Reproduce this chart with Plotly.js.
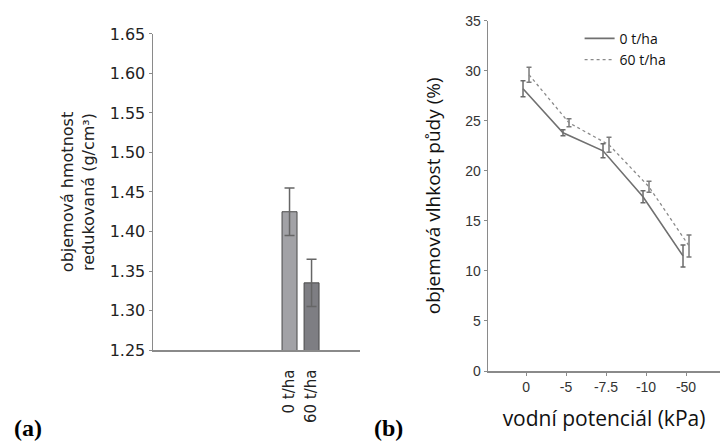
<!DOCTYPE html>
<html>
<head>
<meta charset="utf-8">
<script src="https://cdn.plot.ly/plotly-3.0.1.min.js"></script>
<style>html,body{margin:0;padding:0;background:#fff;}#chart{width:720px;height:443px;}</style>
</head>
<body>
<div id="chart"></div>
<script>
// Panel (a): bulk density (reduced)
const treatA = ['0 t/ha', '60 t/ha'];
const densityA = [1.425, 1.335];
const densityErrA = [0.03, 0.03];
const barColorsA = ['#a2a2a6', '#7e7e83'];

// Panel (b): volumetric soil moisture vs water potential
const potentialB = ['0', '-5', '-7.5', '-10', '-50'];
const moist0 = [28.2, 23.8, 22.0, 17.4, 11.5];
const moist0Err = [0.8, 0.3, 0.7, 0.6, 1.1];
const moist60 = [29.6, 24.8, 22.6, 18.4, 12.5];
const moist60Err = [0.75, 0.4, 0.75, 0.55, 1.1];
const seriesNamesB = ['0 t/ha', '60 t/ha'];

const fontA = 'DejaVu Sans, Liberation Sans, sans-serif';
const fontB = 'Liberation Sans, Arial, sans-serif';
const fontC = 'Open Sans, Noto Sans, sans-serif';

const traces = [
  {
    type: 'bar', x: treatA, y: densityA, xaxis: 'x', yaxis: 'y',
    marker: {color: barColorsA, line: {color: '#4a4a4a', width: 1}},
    error_y: {type: 'data', array: densityErrA, visible: true, color: '#666', thickness: 1.5, width: 5},
    showlegend: false, hoverinfo: 'skip'
  },
  {
    type: 'scatter', mode: 'lines', x: potentialB, y: moist0, xaxis: 'x2', yaxis: 'y2',
    name: seriesNamesB[0], offsetgroup: 'a',
    line: {color: '#707070', width: 1.6},
    error_y: {type: 'data', array: moist0Err, visible: true, color: '#6a6a6a', thickness: 1.5, width: 2.5}
  },
  {
    type: 'scatter', mode: 'lines', x: potentialB, y: moist60, xaxis: 'x2', yaxis: 'y2',
    name: seriesNamesB[1], offsetgroup: 'b',
    line: {color: '#8a8a8a', width: 1.3, dash: 'dot'},
    error_y: {type: 'data', array: moist60Err, visible: true, color: '#7a7a7a', thickness: 1.5, width: 2.5}
  }
];

const layout = {
  width: 720, height: 443,
  margin: {l: 0, r: 0, t: 0, b: 0},
  paper_bgcolor: '#fff', plot_bgcolor: 'rgba(0,0,0,0)',
  showlegend: true,
  scattermode: 'group', scattergap: 0.7,
  bargap: 0.32,
  xaxis: {
    domain: [0.2125, 0.5], anchor: 'y', type: 'category', range: [-6.2, 3.2],
    showline: true, linecolor: '#8a8a8a', linewidth: 1.5, ticks: '', showgrid: false, zeroline: false,
    tickangle: -90, ticklabelstandoff: 12,
    tickfont: {family: fontA, size: 15, color: '#222'}
  },
  yaxis: {
    domain: [0.2099, 0.9233], anchor: 'x', range: [1.25, 1.65], dtick: 0.05, tickformat: '.2f',
    showline: true, linecolor: '#8a8a8a', linewidth: 1.5, ticks: 'outside', ticklen: 3, tickcolor: '#8a8a8a',
    showgrid: false, zeroline: false,
    tickfont: {family: fontA, size: 16, color: '#222'},
    title: {text: 'objemová hmotnost<br>redukovaná (g/cm³)', standoff: 11, font: {family: fontA, size: 16, color: '#222'}}
  },
  xaxis2: {
    domain: [0.6778, 1.0], anchor: 'y2', type: 'category', range: [-0.95, 4.85],
    showline: true, linecolor: '#8a8a8a', linewidth: 1.5, ticks: 'outside', ticklen: 3, tickcolor: '#8a8a8a',
    showgrid: false, zeroline: false,
    tickfont: {family: fontB, size: 14, color: '#333'},
    title: {text: 'vodní potenciál (kPa)', standoff: 17, font: {family: fontC, size: 21, color: '#111'}}
  },
  yaxis2: {
    domain: [0.1625, 0.9533], anchor: 'x2', range: [0, 35], dtick: 5,
    showline: true, linecolor: '#8a8a8a', linewidth: 1.5, ticks: 'outside', ticklen: 3, tickcolor: '#8a8a8a',
    showgrid: false, zeroline: false,
    tickfont: {family: fontB, size: 14, color: '#333'},
    title: {text: 'objemová vlhkost půdy (%)', font: {family: fontC, size: 19, color: '#111'}}
  },
  legend: {
    x: 0.805, xanchor: 'left', y: 0.9485, yanchor: 'top',
    bgcolor: 'rgba(0,0,0,0)', borderwidth: 0, itemwidth: 30,
    font: {family: fontC, size: 14, color: '#111'}, tracegroupgap: 0
  },
  annotations: [
    {text: '<b>(a)</b>', xref: 'paper', yref: 'paper', x: 12/720, y: 0, xanchor: 'left', yanchor: 'bottom', showarrow: false,
     font: {family: 'Liberation Serif, Times New Roman, serif', size: 24, color: '#000'}},
    {text: '<b>(b)</b>', xref: 'paper', yref: 'paper', x: 372/720, y: 0, xanchor: 'left', yanchor: 'bottom', showarrow: false,
     font: {family: 'Liberation Serif, Times New Roman, serif', size: 24, color: '#000'}}
  ]
};

Plotly.newPlot('chart', traces, layout, {staticPlot: true, displayModeBar: false});
</script>
</body>
</html>
